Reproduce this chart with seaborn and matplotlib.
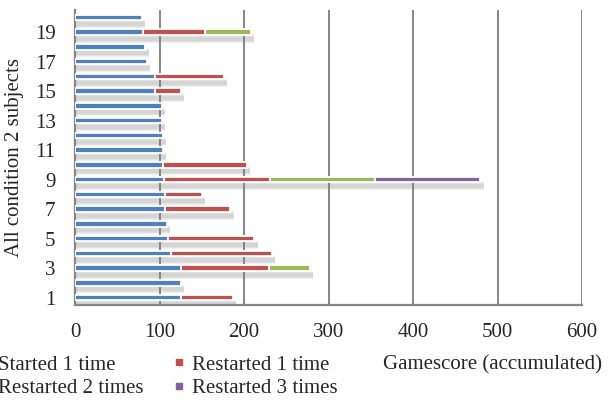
import numpy as np
import pandas as pd
import matplotlib
matplotlib.use("Agg")
import matplotlib.pyplot as plt
import seaborn as sns
from matplotlib.lines import Line2D

# Data (subjects 1..20), segment values
subjects = [str(i) for i in range(1, 21)]
started_1 = [126, 125, 125, 114, 110, 109, 106, 106, 105.5, 104,
             104, 104, 103, 103, 95, 95, 85, 83, 81, 79]
restarted_1 = [61, 0, 105, 119, 102, 0, 78, 44, 125, 99,
               0, 0, 0, 0, 30, 81, 0, 0, 73, 0]
restarted_2 = [0, 0, 48, 0, 0, 0, 0, 0, 125, 0,
               0, 0, 0, 0, 0, 0, 0, 0, 54, 0]
restarted_3 = [0, 0, 0, 0, 0, 0, 0, 0, 124, 0,
               0, 0, 0, 0, 0, 0, 0, 0, 0, 0]

series_names = ["Started 1 time", "Restarted 1 time", "Restarted 2 times", "Restarted 3 times"]
colors = ["#4F81BD", "#C0504D", "#9BBB59", "#8064A2"]

df = pd.DataFrame({
    "subject": subjects,
    "Started 1 time": started_1,
    "Restarted 1 time": restarted_1,
    "Restarted 2 times": restarted_2,
    "Restarted 3 times": restarted_3,
})
# accumulated ends of each segment
cum = df[series_names].cumsum(axis=1)
cum["subject"] = df["subject"]

order = subjects[::-1]  # subject 20 on top

sns.set_style("white")
plt.rcParams["font.family"] = ["Liberation Serif", "DejaVu Serif"]
plt.rcParams["font.size"] = 15

fig = plt.figure(figsize=(6.08, 4.01), dpi=100)
ax = fig.add_axes([75 / 608, 1 - 305 / 401, 507 / 608, 295 / 401])

# soft shadow under each bar (a few stacked translucent layers)
totals = cum.set_index("subject").loc[order, series_names[-1]].values
pos = np.arange(len(order))
for h, a in [(0.56, 0.12), (0.42, 0.12), (0.28, 0.12)]:
    ax.barh(pos + 0.44, totals + 4, height=h, color="#7f7f7f", alpha=a, linewidth=0, zorder=1)

# stacked look: draw longest accumulated bars first
for name, col in list(zip(series_names, colors))[::-1]:
    sns.barplot(data=cum, x=name, y="subject", order=order, color=col,
                width=0.36, edgecolor="white", linewidth=1.3, ax=ax,
                saturation=1, orient="h", zorder=3)

ax.set_xlim(0, 600)
ax.set_ylim(len(order) - 0.5, -0.5)
ax.set_xticks(range(0, 601, 100))
ax.xaxis.grid(True, color="#868686", linewidth=1.4)
ax.set_axisbelow(True)

# labels on odd subjects, ticks on category boundaries
odd_pos = [order.index(s) for s in subjects[::2]]
ax.set_yticks(odd_pos)
ax.set_yticklabels(subjects[::2])
ax.set_yticks(np.arange(-0.5, len(order), 1), minor=True)
ax.tick_params(axis="y", which="major", length=0, pad=14)
ax.tick_params(axis="y", which="minor", length=6, width=1.4, color="#868686", direction="out")
ax.tick_params(axis="x", length=5, width=1.4, color="#868686", direction="out", pad=8)

for side in ["top", "right"]:
    ax.spines[side].set_visible(False)
for side in ["left", "bottom"]:
    ax.spines[side].set_color("#868686")
    ax.spines[side].set_linewidth(1.6)

ax.set_xlabel("")
ax.set_ylabel("All condition 2 subjects", fontsize=15, labelpad=8)

handles = [Line2D([], [], marker="s", linestyle="", color=c, markersize=5) for c in colors]
leg_order = [0, 2, 1, 3]
fig.legend([handles[i] for i in leg_order], [series_names[i] for i in leg_order],
           loc="upper left", bbox_to_anchor=(-22.8 / 608, 1 - 355 / 401),
           ncol=2, frameon=False, borderpad=0, borderaxespad=0,
           handlelength=0.75, handletextpad=0.25, columnspacing=1.35,
           labelspacing=0.2, fontsize=15)

fig.text(383 / 608, 1 - 365 / 401, "Gamescore (accumulated)", ha="left", va="center", fontsize=15)

fig.savefig("out.png", dpi=100)
